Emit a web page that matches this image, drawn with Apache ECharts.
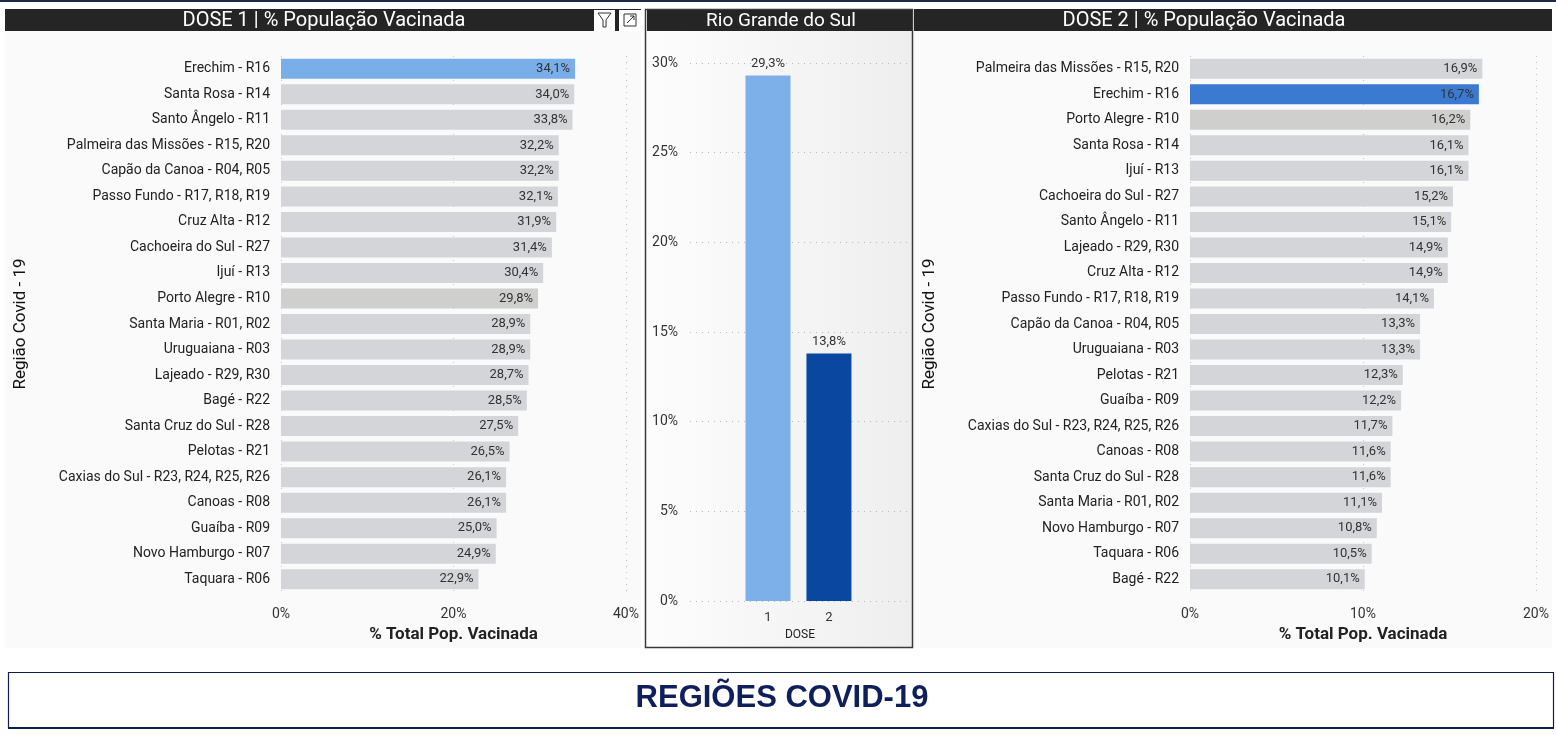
<!DOCTYPE html>
<html lang="pt-BR">
<head>
<meta charset="UTF-8">
<title>Regiões Covid-19</title>
<style>
  html, body { margin: 0; padding: 0; background: #ffffff; }
  #main { width: 1556px; height: 735px; }
</style>
</head>
<body>
<div id="main"></div>
<script src="https://cdn.jsdelivr.net/npm/echarts@6/dist/echarts.min.js"></script>
<script>
// dose 1 - ordenado como no painel
var dose1Regions = ['Erechim - R16', 'Santa Rosa - R14', 'Santo Ângelo - R11', 'Palmeira das Missões - R15, R20',
    'Capão da Canoa - R04, R05', 'Passo Fundo - R17, R18, R19', 'Cruz Alta - R12', 'Cachoeira do Sul - R27',
    'Ijuí - R13', 'Porto Alegre - R10', 'Santa Maria - R01, R02', 'Uruguaiana - R03', 'Lajeado - R29, R30',
    'Bagé - R22', 'Santa Cruz do Sul - R28', 'Pelotas - R21', 'Caxias do Sul - R23, R24, R25, R26',
    'Canoas - R08', 'Guaíba - R09', 'Novo Hamburgo - R07', 'Taquara - R06'];
var dose1Values = [34.1, 34.0, 33.8, 32.2, 32.2, 32.1, 31.9, 31.4, 30.4, 29.8, 28.9, 28.9, 28.7, 28.5, 27.5,
    26.5, 26.1, 26.1, 25.0, 24.9, 22.9];

// dose 2
var dose2Regions = ['Palmeira das Missões - R15, R20', 'Erechim - R16', 'Porto Alegre - R10', 'Santa Rosa - R14',
    'Ijuí - R13', 'Cachoeira do Sul - R27', 'Santo Ângelo - R11', 'Lajeado - R29, R30', 'Cruz Alta - R12',
    'Passo Fundo - R17, R18, R19', 'Capão da Canoa - R04, R05', 'Uruguaiana - R03', 'Pelotas - R21',
    'Guaíba - R09', 'Caxias do Sul - R23, R24, R25, R26', 'Canoas - R08', 'Santa Cruz do Sul - R28',
    'Santa Maria - R01, R02', 'Novo Hamburgo - R07', 'Taquara - R06', 'Bagé - R22'];
var dose2Values = [16.9, 16.7, 16.2, 16.1, 16.1, 15.2, 15.1, 14.9, 14.9, 14.1, 13.3, 13.3, 12.3, 12.2, 11.7,
    11.6, 11.6, 11.1, 10.8, 10.5, 10.1];

// Rio Grande do Sul total
var doseLabels = ['1', '2'];
var doseNums = [1, 2];
var rsValues = [29.3, 13.8];

var dose1Ticks = [0, 20, 40];
var dose2Ticks = [0, 10, 20];

var highlight = 'Erechim - R16';
var labelFont = 'Roboto, "Noto Sans", sans-serif';

function pct(v) {
    return v.toFixed(1).replace('.', ',') + '%';
}

function barData(regions, values, hiColor) {
    var out = [];
    for (var i = 0; i < values.length; i++) {
        var c = '#d4d5d8';
        if (regions[i] === highlight) c = hiColor;
        else if (regions[i] === 'Porto Alegre - R10') c = '#cfd0ce';
        out.push({ value: values[i], itemStyle: { color: c } });
    }
    return out;
}

var rsData = [];
var rsColors = ['#7db0e9', '#0a47a0'];
for (var i = 0; i < rsValues.length; i++) {
    rsData.push({ value: [doseNums[i], rsValues[i]], itemStyle: { color: rsColors[i] } });
}

function hAxis(idx, max, step, ticks) {
    return {
        type: 'value', gridIndex: idx, min: 0, max: max, interval: step,
        axisLine: { show: false }, axisTick: { show: false },
        axisLabel: { formatter: '{value}%', color: '#333', fontSize: 14, fontFamily: labelFont, margin: 15,
            customValues: ticks },
        splitLine: { show: true, lineStyle: { color: '#c4c4c4', type: [1, 5] } },
        name: '% Total Pop. Vacinada', nameLocation: 'middle', nameGap: 34,
        nameTextStyle: { fontSize: 17, color: '#222', fontWeight: 'bold', fontFamily: labelFont }
    };
}

function catAxis(idx, regions) {
    return {
        type: 'category', gridIndex: idx, data: regions, inverse: true,
        axisLine: { show: false }, axisTick: { show: false },
        axisLabel: { color: '#222', fontSize: 14, fontFamily: labelFont, margin: 11 },
        name: 'Região Covid - 19', nameLocation: 'middle', nameGap: 252,
        nameTextStyle: { fontSize: 17, color: '#111', fontFamily: labelFont }
    };
}

function regionSeries(idx, regions, values, hiColor) {
    return {
        type: 'bar', xAxisIndex: idx, yAxisIndex: idx, barWidth: 20,
        data: barData(regions, values, hiColor),
        label: { show: true, position: 'insideRight', distance: 5, color: '#333', fontSize: 13,
            fontFamily: labelFont, formatter: function (p) { return pct(p.value); } }
    };
}

var chart = echarts.init(document.getElementById('main'));

chart.setOption({
    animation: false,
    backgroundColor: '#ffffff',
    graphic: [
        { type: 'rect', z: -5, shape: { x: 0, y: 0, width: 1556, height: 2 }, style: { fill: '#1b2a4a' } },
        { type: 'rect', z: -5, shape: { x: 5, y: 31, width: 636, height: 617 }, style: { fill: '#fafafb' } },
        { type: 'rect', z: -5, shape: { x: 913, y: 31, width: 639, height: 617 }, style: { fill: '#fafafb' } },
        { type: 'rect', z: -5, shape: { x: 645.5, y: 9.5, width: 267, height: 638 },
            style: { fill: new echarts.graphic.LinearGradient(0, 0, 1, 0, [
                { offset: 0, color: '#fdfdfd' }, { offset: 1, color: '#eeeeee' }]),
                stroke: '#3a3a3a', lineWidth: 1.5 } },
        // headers
        { type: 'rect', z: 50, shape: { x: 5, y: 9, width: 636, height: 22 }, style: { fill: '#252525' } },
        { type: 'rect', z: 50, shape: { x: 647, y: 10, width: 265, height: 21 }, style: { fill: '#252525' } },
        { type: 'rect', z: 50, shape: { x: 914, y: 9, width: 638, height: 22 }, style: { fill: '#252525' } },
        { type: 'text', z: 51, x: 324, y: 21, style: { text: 'DOSE 1 | % População Vacinada', fill: '#ffffff',
            font: '20px ' + labelFont, align: 'center', verticalAlign: 'middle' } },
        { type: 'text', z: 51, x: 781, y: 21, style: { text: 'Rio Grande do Sul', fill: '#ffffff',
            font: '19px ' + labelFont, align: 'center', verticalAlign: 'middle' } },
        { type: 'text', z: 51, x: 1204, y: 21, style: { text: 'DOSE 2 | % População Vacinada', fill: '#ffffff',
            font: '20px ' + labelFont, align: 'center', verticalAlign: 'middle' } },
        // filter / expand icons
        { type: 'rect', z: 52, shape: { x: 594, y: 10, width: 21, height: 21 }, style: { fill: '#ffffff' } },
        { type: 'polygon', z: 53, shape: { points: [[598, 13], [611, 13], [606, 20], [606, 27], [603, 27], [603, 20]] },
            style: { fill: 'none', stroke: '#333', lineWidth: 1 } },
        { type: 'rect', z: 52, shape: { x: 619, y: 10, width: 22, height: 21 }, style: { fill: '#ffffff' } },
        { type: 'rect', z: 53, shape: { x: 624, y: 14, width: 12, height: 12 },
            style: { fill: 'none', stroke: '#333', lineWidth: 1 } },
        { type: 'polyline', z: 53, shape: { points: [[627, 23], [634, 16]] }, style: { stroke: '#333', lineWidth: 1 } },
        { type: 'polyline', z: 53, shape: { points: [[630, 16], [634, 16], [634, 20]] },
            style: { fill: 'none', stroke: '#333', lineWidth: 1 } },
        // footer
        { type: 'rect', z: 0, shape: { x: 8.5, y: 672.5, width: 1545, height: 55 },
            style: { fill: '#ffffff', stroke: '#0d1f4a', lineWidth: 1.2 } },
        { type: 'rect', z: 0, shape: { x: 8, y: 727, width: 1546, height: 2 }, style: { fill: '#0d1f4a' } },
        { type: 'text', z: 1, x: 782, y: 698, style: { text: 'REGIÕES COVID-19', fill: '#0f1f5c',
            font: 'bold 31px "Liberation Sans", Arial, sans-serif', align: 'center', verticalAlign: 'middle' } }
    ],
    grid: [
        { left: 281, top: 56, width: 345, height: 536 },
        { left: 690, top: 63, width: 220, height: 538 },
        { left: 1190, top: 56, width: 346, height: 536 }
    ],
    xAxis: [
        hAxis(0, 40, 20, dose1Ticks),
        {
            type: 'value', gridIndex: 1, min: -0.28, max: 3.33,
            axisLine: { show: false }, axisTick: { show: false }, splitLine: { show: false },
            axisLabel: { customValues: doseNums, color: '#333', fontSize: 13, fontFamily: labelFont, margin: 10,
                formatter: function (v) { return doseLabels[doseNums.indexOf(v)] || ''; } },
            name: 'DOSE', nameLocation: 'middle', nameGap: 27,
            nameTextStyle: { fontSize: 12, color: '#222', fontFamily: labelFont }
        },
        hAxis(2, 20, 10, dose2Ticks)
    ],
    yAxis: [
        catAxis(0, dose1Regions),
        {
            type: 'value', gridIndex: 1, min: 0, max: 30, interval: 5,
            axisLine: { show: false }, axisTick: { show: false },
            axisLabel: { formatter: '{value}%', color: '#333', fontSize: 14, fontFamily: labelFont, margin: 12 },
            splitLine: { show: true, lineStyle: { color: '#b8b8b8', type: [1, 5] } }
        },
        catAxis(2, dose2Regions)
    ],
    series: [
        regionSeries(0, dose1Regions, dose1Values, '#7aaee8'),
        {
            type: 'bar', xAxisIndex: 1, yAxisIndex: 1, barWidth: 45, data: rsData,
            label: { show: true, position: 'top', distance: 5, color: '#333', fontSize: 13, fontFamily: labelFont,
                formatter: function (p) { return pct(p.value[1]); } }
        },
        regionSeries(2, dose2Regions, dose2Values, '#3a7ad0')
    ]
});
</script>
</body>
</html>
